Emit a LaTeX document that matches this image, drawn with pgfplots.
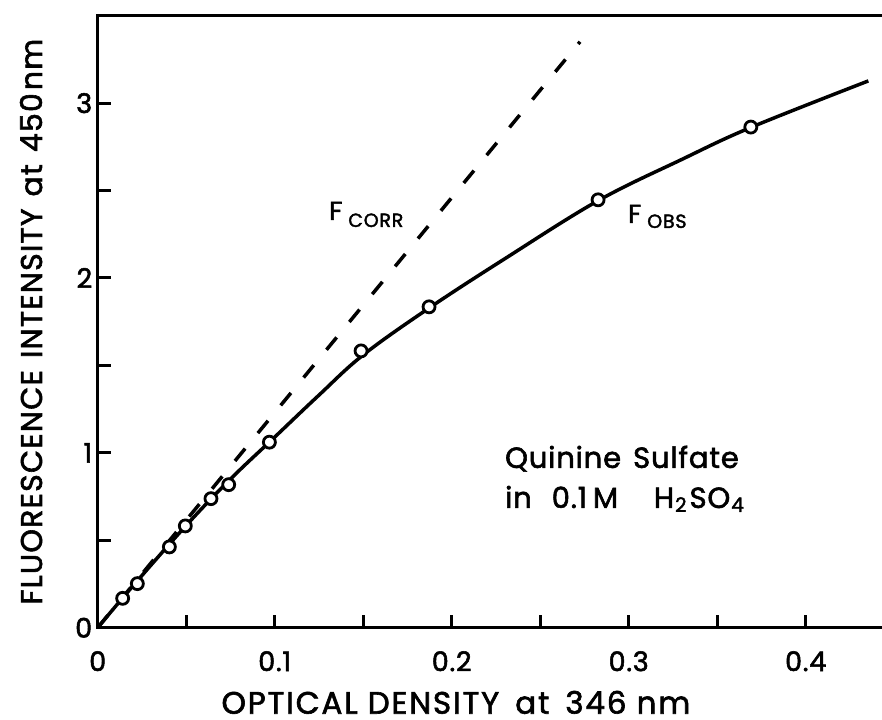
\documentclass[border=0pt]{standalone}
\usepackage{pgfplots}
\pgfplotsset{compat=1.18}
\usepackage{fontspec}
\setmainfont{Poppins}[FakeBold=2]
\newcommand{\fs}[1]{\fontsize{#1}{#1}\selectfont}
\begin{document}
\begin{tikzpicture}
\begin{axis}[
  scale only axis, width=814.2pt, height=612pt,
  xmin=0, xmax=0.46, ymin=0, ymax=3.5,
  axis line style={line width=3.5pt},
  tick pos=left,
  tick align=inside,
  xtick={0,0.1,0.2,0.3,0.4}, xticklabels={0,0.1,0.2,0.3,0.4},
  ytick={0,1,2,3}, yticklabels={0,1,2,3},
  minor x tick num=1, minor y tick num=1,
  major tick length=13pt, minor tick length=13pt,
  every tick/.style={black, line width=3pt},
  /pgf/number format/assume math mode=true,
  xticklabel style={font=\fs{27}\addfontfeature{LetterSpace=3}, yshift=-20pt},
  yticklabel style={font=\fs{27}, xshift=-2pt},
  clip=false,
]
\coordinate (O) at (axis cs:0,0);
% observed curve
\addplot[black, line width=3.5pt, smooth, tension=0.6] coordinates {
 (0,0) (0.02,0.24) (0.05,0.585) (0.075,0.85) (0.1,1.09) (0.125,1.33)
 (0.15,1.56) (0.1872,1.828) (0.23,2.11) (0.2827,2.442) (0.33,2.678)
 (0.369,2.861) (0.4354,3.127)};
% corrected (dashed)
\addplot[black, line width=3.5pt, dash pattern=on 16pt off 20pt] coordinates {(0,0) (0.2725,3.351)};
% observed points
\addplot[only marks, mark=*, mark size=6pt, mark options={fill=white, draw=black, line width=2.8pt}] coordinates {
 (0.0141,0.168) (0.0224,0.252) (0.0405,0.462) (0.0495,0.582) (0.064,0.738)
 (0.074,0.818) (0.097,1.061) (0.1488,1.583) (0.1872,1.835) (0.2827,2.447) (0.369,2.863)};
% annotations
\node[anchor=base west, inner sep=0pt] at (axis cs:0.1307,2.332) {\fs{26}F\hspace{6pt}\raisebox{-7pt}{\fs{19}\addfontfeature{LetterSpace=4}CORR}};
\node[anchor=base west, inner sep=0pt] at (axis cs:0.2996,2.315) {\fs{26}F\hspace{6pt}\raisebox{-5pt}{\fs{19}\addfontfeature{LetterSpace=4}OBS}};
\node[anchor=base west, inner sep=0pt] at (axis cs:0.2301,0.914) {\fs{29}\addfontfeature{LetterSpace=3}Quinine\hspace{12pt}Sulfate};
\node[anchor=base west, inner sep=0pt] at (axis cs:0.2301,0.685) {\fs{29}\addfontfeature{LetterSpace=3}in\hspace{20pt}0.1\hspace{6pt}M\hspace{36pt}H\hspace{1pt}\raisebox{-4pt}{\fs{20}2}\hspace{3pt}SO\hspace{1pt}\raisebox{-4pt}{\fs{20}4}};
% axis labels
\node[anchor=base, inner sep=0pt] at ([yshift=-86pt]axis cs:0.2024,0) {\fs{31}\addfontfeature{LetterSpace=6}OPTICAL DENSITY\hspace{16pt}at\hspace{16pt}346 nm};
\node[anchor=base, inner sep=0pt, rotate=90] at ([xshift=-55.7pt]axis cs:0,1.75) {\fs{30}\addfontfeature{LetterSpace=4}FLUORESCENCE\hspace{12pt}INTENSITY\hspace{12pt}at\hspace{12pt}450\hspace{3pt}nm};
\end{axis}
\pgfresetboundingbox
\path[use as bounding box] ([shift={(-97.7pt,-91.3pt)}]O) rectangle ([shift={(784.3pt,627.7pt)}]O);
\end{tikzpicture}
\end{document}
